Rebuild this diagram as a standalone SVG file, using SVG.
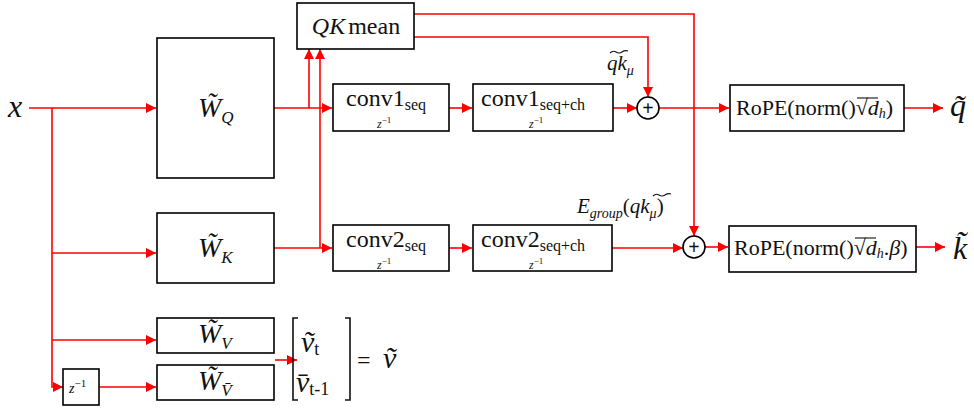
<svg xmlns="http://www.w3.org/2000/svg" width="974" height="411" viewBox="0 0 974 411">
<defs>
<marker id="ar" viewBox="0 0 10 10" refX="10" refY="5" markerWidth="10" markerHeight="10" markerUnits="userSpaceOnUse" orient="auto">
<path d="M0,0 L10,5 L0,10 z" fill="#ff0000"/>
</marker>
<style>
.box{fill:#fff;stroke:#000;stroke-width:1.6}
.ln{fill:none;stroke:#ff0000;stroke-width:1.6}
.a{marker-end:url(#ar)}
text{font-family:"Liberation Serif","DejaVu Serif",serif;fill:#111}
.i{font-style:italic}
.sum{fill:#fff;stroke:#000;stroke-width:1.6}
.acc{fill:none;stroke:#111;stroke-width:1.1}
</style>
</defs>
<rect width="974" height="411" fill="#fff"/>
<g id="connectors">
<path class="ln a" d="M29,108 H156"/>
<path class="ln a" d="M52,108 V387 H63"/>
<path class="ln a" d="M52,253 H156"/>
<path class="ln a" d="M52,340 H156"/>
<path class="ln a" d="M99,387 H156"/>
<path class="ln a" d="M274,108 H332"/>
<path class="ln a" d="M309,108 V49"/>
<path class="ln a" d="M274,248 H332"/>
<path class="ln a" d="M320,248 V49"/>
<path class="ln a" d="M449,108 H472"/>
<path class="ln a" d="M449,248 H472"/>
<path class="ln a" d="M613,108 H637"/>
<path class="ln a" d="M659,108 H729"/>
<path class="ln a" d="M414,14 H694 V236"/>
<path class="ln a" d="M414,37 H648 V97"/>
<path class="ln a" d="M612,248 H683"/>
<path class="ln a" d="M705,247 H728"/>
<path class="ln a" d="M904,108 H943"/>
<path class="ln a" d="M916,247 H945"/>
<path class="ln a" d="M275,360 H297"/>
</g>
<g id="x"><text class="i" x="8" y="117" font-size="32">x</text></g>
<g id="WQ">
<rect class="box" x="157" y="38" width="117" height="140"/>
<text x="198" y="117" font-size="28"><tspan class="i">W̃</tspan><tspan class="i" font-size="17" dy="6">Q</tspan></text>
</g>
<g id="WK">
<rect class="box" x="157" y="213" width="117" height="70"/>
<text x="198" y="257" font-size="28"><tspan class="i">W̃</tspan><tspan class="i" font-size="17" dy="6">K</tspan></text>
</g>
<g id="WV">
<rect class="box" x="157" y="318" width="117" height="35"/>
<text x="198" y="343" font-size="28"><tspan class="i">W̃</tspan><tspan class="i" font-size="17" dy="6">V</tspan></text>
</g>
<g id="WVbar">
<rect class="box" x="157" y="365" width="117" height="35"/>
<text x="198" y="390" font-size="28"><tspan class="i">W̃</tspan><tspan class="i" font-size="17" dy="6">V̄</tspan></text>
</g>
<g id="zdelay">
<rect class="box" x="63" y="369" width="36" height="36"/>
<text x="69" y="393" font-size="14"><tspan class="i">z</tspan><tspan font-size="11" dy="-6">−1</tspan></text>
</g>
<g id="QKmean">
<rect class="box" x="297" y="3" width="117" height="46"/>
<text x="356" y="34" font-size="24" text-anchor="middle"><tspan class="i">QK</tspan><tspan dx="3">mean</tspan></text>
</g>
<g id="conv1seq">
<rect class="box" x="333" y="84" width="116" height="47"/>
<text x="346" y="106" font-size="24">conv1<tspan font-size="16" dy="4">seq</tspan></text>
<text x="377" y="128" font-size="12"><tspan class="i">z</tspan><tspan font-size="9" dy="-5">−1</tspan></text>
</g>
<g id="conv1seqch">
<rect class="box" x="473" y="84" width="140" height="47"/>
<text x="481" y="106" font-size="24">conv1<tspan font-size="16" dy="4">seq+ch</tspan></text>
<text x="529" y="128" font-size="12"><tspan class="i">z</tspan><tspan font-size="9" dy="-5">−1</tspan></text>
</g>
<g id="conv2seq">
<rect class="box" x="333" y="225" width="116" height="46"/>
<text x="346" y="247" font-size="24">conv2<tspan font-size="16" dy="4">seq</tspan></text>
<text x="377" y="269" font-size="12"><tspan class="i">z</tspan><tspan font-size="9" dy="-5">−1</tspan></text>
</g>
<g id="conv2seqch">
<rect class="box" x="473" y="225" width="139" height="46"/>
<text x="481" y="247" font-size="24">conv2<tspan font-size="16" dy="4">seq+ch</tspan></text>
<text x="529" y="269" font-size="12"><tspan class="i">z</tspan><tspan font-size="9" dy="-5">−1</tspan></text>
</g>
<g id="sum1">
<circle class="sum" cx="648" cy="108" r="11"/>
<text x="648" y="115" font-size="20" font-weight="bold" text-anchor="middle" font-family="DejaVu Sans">+</text>
</g>
<g id="sum2">
<circle class="sum" cx="694" cy="247" r="11"/>
<text x="694" y="254" font-size="20" font-weight="bold" text-anchor="middle" font-family="DejaVu Sans">+</text>
</g>
<g id="lbl_qk">
<text x="607" y="70" font-size="21" class="i">qk<tspan font-size="14" dy="5">μ</tspan></text>
<path class="acc" d="M610,53 q3,-3 6,-1 t6,0 t6,-1"/>
</g>
<g id="lbl_egroup">
<text x="577" y="213" font-size="21"><tspan class="i">E</tspan><tspan class="i" font-size="14" dy="5">group</tspan><tspan dy="-5">(</tspan><tspan class="i">qk</tspan><tspan class="i" font-size="14" dy="5">μ</tspan><tspan dy="-5">)</tspan></text>
<path class="acc" d="M653,196 q3,-3 6,-1 t6,0 t6,-1"/>
</g>
<g id="rope1">
<rect class="box" x="730" y="85" width="174" height="46"/>
<text x="736" y="115" font-size="22">RoPE(norm()√<tspan class="i">d</tspan><tspan class="i" font-size="14" dy="3">h</tspan><tspan dy="-3">)</tspan></text>
<line x1="857" y1="98" x2="878" y2="98" stroke="#111" stroke-width="1.1"/>
</g>
<g id="rope2">
<rect class="box" x="729" y="226" width="187" height="46"/>
<text x="734" y="255" font-size="22">RoPE(norm()√<tspan class="i">d</tspan><tspan class="i" font-size="14" dy="3">h</tspan><tspan dy="-3">.</tspan><tspan class="i">β</tspan>)</text>
<line x1="855" y1="238" x2="876" y2="238" stroke="#111" stroke-width="1.1"/>
</g>
<g id="qout">
<text x="950" y="116" font-size="32" class="i">q̃</text>
</g>
<g id="kout">
<text x="953" y="259" font-size="32" class="i">k̃</text>
</g>
<g id="vvec">
<path d="M298,318 H293 V400 H298" fill="none" stroke="#111" stroke-width="1.6"/>
<path d="M345,318 H350 V400 H345" fill="none" stroke="#111" stroke-width="1.6"/>
<text x="301" y="352" font-size="30" class="i">ṽ<tspan font-size="18" font-style="normal" dy="3">t</tspan></text>
<text x="296" y="392" font-size="30" class="i">v̄<tspan font-size="18" font-style="normal" dy="3">t-1</tspan></text>
<text x="357" y="368" font-size="24">=</text>
<text x="383" y="368" font-size="30" class="i">ṽ</text>
</g>
</svg>
